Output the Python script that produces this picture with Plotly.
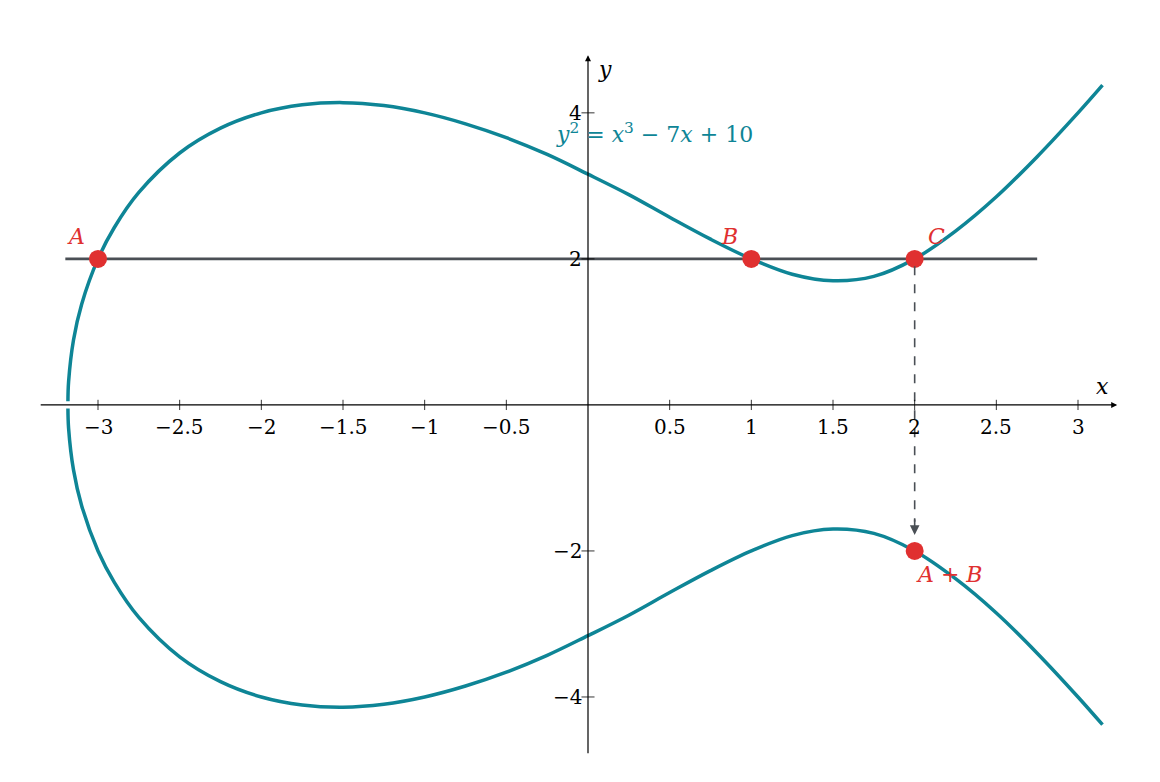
import plotly.graph_objects as go

xs = [-3.184,-3.18,-3.15,-3.1,-3.0,-2.9,-2.75,-2.5,-2.25,-2,-1.75,-1.5,-1.25,-1,-0.75,-0.5,-0.25,0,0.25,0.5,0.75,1,1.25,1.5,1.75,2,2.25,2.5,2.75,3,3.15]
upper = [0.05,0.32,0.89,1.38,2.0,2.43,2.91,3.45,3.79,4.0,4.11,4.14,4.10,4.0,3.85,3.66,3.43,3.16,2.88,2.57,2.27,2.0,1.79,1.70,1.76,2.0,2.38,2.85,3.40,4.0,4.38]
lower = [-0.05,-0.32,-0.89,-1.38,-2.0,-2.43,-2.91,-3.45,-3.79,-4.0,-4.11,-4.14,-4.10,-4.0,-3.85,-3.66,-3.43,-3.16,-2.88,-2.57,-2.27,-2.0,-1.79,-1.70,-1.76,-2.0,-2.38,-2.85,-3.40,-4.0,-4.38]
xticks = [-3,-2.5,-2,-1.5,-1,-0.5,0.5,1,1.5,2,2.5,3]
xlabels = ["−3","−2.5","−2","−1.5","−1","−0.5","0.5","1","1.5","2","2.5","3"]
yticks = [-4,-2,2,4]
ylabels = ["−4","−2","2","4"]
pts_x = [-3,1,2,2]
pts_y = [2,2,2,-2]
pts_lab = ["A","B","C","A + B"]

CURVE = "#0e8596"; RED = "#e03030"; GREY = "#4a4f55"
F = "DejaVu Serif"
fig = go.Figure()
fig.add_trace(go.Scatter(x=[-3.2, 2.75], y=[2, 2], mode="lines", line=dict(color=GREY, width=2.6)))
for ys in (upper, lower):
    fig.add_trace(go.Scatter(x=xs, y=ys, mode="lines", line=dict(color=CURVE, width=3.5, shape="spline")))
fig.add_trace(go.Scatter(x=pts_x, y=pts_y, mode="markers", marker=dict(color=RED, size=18)))

ann = []
ann.append(dict(x=3.24, y=0, ax=-3.36, ay=0, xref="x", yref="y", axref="x", ayref="y", showarrow=True, arrowhead=2, arrowsize=1, arrowwidth=1.2, arrowcolor="black", text=""))
ann.append(dict(x=0, y=4.79, ax=0, ay=-4.79, xref="x", yref="y", axref="x", ayref="y", showarrow=True, arrowhead=2, arrowsize=1, arrowwidth=1.2, arrowcolor="black", text=""))
ann.append(dict(x=2, y=-1.78, ax=2, ay=-1.55, xref="x", yref="y", axref="x", ayref="y", showarrow=True, arrowhead=2, arrowsize=1.2, arrowwidth=1.6, arrowcolor=GREY, text=""))
shapes = [dict(type="line", x0=2, x1=2, y0=1.9, y1=-1.6, line=dict(color=GREY, width=1.6, dash="dash"))]
for v, l in zip(xticks, xlabels):
    shapes.append(dict(type="line", x0=v, x1=v, y0=-0.07, y1=0.07, line=dict(color="black", width=0.8)))
    ann.append(dict(x=v, y=0, xref="x", yref="y", text=l, showarrow=False, yanchor="top", yshift=-8, font=dict(family=F, size=20, color="black")))
for v, l in zip(yticks, ylabels):
    shapes.append(dict(type="line", x0=-0.04, x1=0.04, y0=v, y1=v, line=dict(color="black", width=0.8)))
    ann.append(dict(x=0, y=v, xref="x", yref="y", text=l, showarrow=False, xanchor="right", xshift=-4, font=dict(family=F, size=20, color="black")))
ann.append(dict(x=3.2, y=0, text="<i>x</i>", showarrow=False, yanchor="bottom", xanchor="right", yshift=4, font=dict(family=F, size=22, color="black")))
ann.append(dict(x=0, y=4.79, text="<i>y</i>", showarrow=False, yanchor="top", xanchor="left", xshift=8, font=dict(family=F, size=22, color="black")))
ann.append(dict(x=0.41, y=3.73, text="<i>y</i><sup>2</sup> = <i>x</i><sup>3</sup> − 7<i>x</i> + 10", showarrow=False, font=dict(family=F, size=22, color=CURVE)))
offs = [(-22, 22), (-22, 22), (22, 22), (34, -24)]
for x, y, l, (dx, dy) in zip(pts_x, pts_y, pts_lab, offs):
    lab = "<i>A</i> + <i>B</i>" if l == "A + B" else "<i>%s</i>" % l
    ann.append(dict(x=x, y=y, text=lab, showarrow=False, xshift=dx, yshift=dy, font=dict(family=F, size=22, color=RED)))

fig.update_layout(width=1160, height=782, margin=dict(l=0, r=0, t=0, b=0), showlegend=False,
                  plot_bgcolor="white", paper_bgcolor="white", annotations=ann, shapes=shapes,
                  xaxis=dict(range=[-3.551, 3.551], visible=False),
                  yaxis=dict(range=[-5.274, 5.436], visible=False))
fig.write_html("out.html")
